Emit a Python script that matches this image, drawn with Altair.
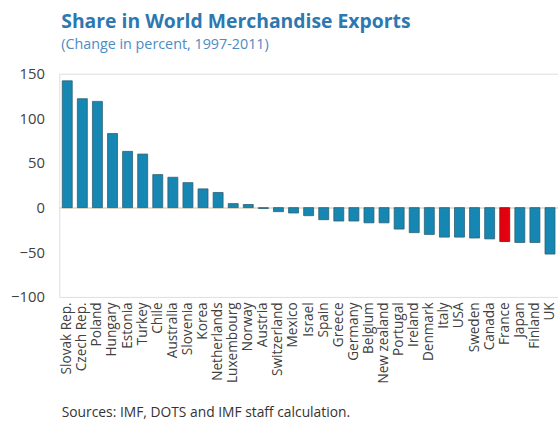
import altair as alt
import pandas as pd

countries = ["Slovak Rep.", "Czech Rep.", "Poland", "Hungary", "Estonia", "Turkey", "Chile",
             "Australia", "Slovenia", "Korea", "Netherlands", "Luxembourg", "Norway", "Austria",
             "Switzerland", "Mexico", "Israel", "Spain", "Greece", "Germany", "Belgium",
             "New zealand", "Portugal", "Ireland", "Denmark", "Italy", "USA", "Sweden", "Canada",
             "France", "Japan", "Finland", "UK"]
values = [142, 122, 119, 83, 63, 60, 37, 34, 28, 21, 17, 4.5, 3.5, -1,
          -4.5, -6, -9, -13.5, -15, -15, -17, -17, -24, -28, -30, -33, -33, -34, -35,
          -38, -39, -39, -52]
highlight = ["France"]

df = pd.DataFrame({"country": countries, "value": values})
df["hl"] = df["country"].isin(highlight).map({True: "y", False: "n"})

FONT = "Open Sans"

base = alt.Chart(df)

bars = base.mark_bar(strokeWidth=0.8).encode(
    x=alt.X("country:N", sort=countries, scale=alt.Scale(paddingInner=0.34, paddingOuter=0.2),
            axis=alt.Axis(title="Sources: IMF, DOTS and IMF staff calculation.",
                          titleAnchor="start", titleAlign="left", titleX=2, titleY=110,
                          titleFont=FONT, titleFontSize=14, titleFontWeight="normal",
                          titleColor="#333333",
                          labelAngle=-90, labelFont=FONT, labelFontSize=13.8,
                          labelColor="#404040", labelPadding=5, ticks=False, domain=False)),
    y=alt.Y("value:Q", scale=alt.Scale(domain=[-100, 150], nice=False),
            axis=alt.Axis(values=[-100, -50, 0, 50, 100, 150], title=None, grid=False,
                          domain=False, ticks=False, labelFont=FONT, labelFontSize=15,
                          labelColor="#404040", labelPadding=15)),
    color=alt.Color("hl:N", scale=alt.Scale(domain=["n", "y"], range=["#1687b2", "#e3000f"]),
                    legend=None),
    stroke=alt.Stroke("hl:N", scale=alt.Scale(domain=["n", "y"], range=["#2f5f70", "#8a1010"]),
                      legend=None),
)

zero = base.mark_rule(color="#e8ddd0", strokeWidth=1).encode(y=alt.datum(0))

chart = (zero + bars).properties(
    width=505, height=226,
    title=alt.TitleParams(
        text="Share in World Merchandise Exports",
        subtitle="(Change in percent, 1997-2011)",
        anchor="start", frame="group", dx=2,
        font=FONT, fontSize=19.6, fontWeight="bold", color="#2d78b0",
        subtitleFont=FONT, subtitleFontSize=14.5, subtitleColor="#4a8cc4",
        subtitlePadding=5, offset=15,
    ),
    autosize=alt.AutoSizeParams(type="none"),
    padding={"left": 60, "top": 72, "right": 0, "bottom": 123},
).configure_view(stroke="#dcdcdc", strokeWidth=1).configure(background="white")

chart.save("out.html", embed_options={"renderer": "svg", "actions": False})
